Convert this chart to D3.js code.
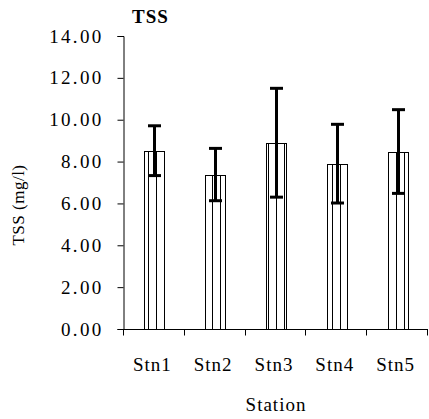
<!DOCTYPE html>
<html>
<head>
<meta charset="utf-8">
<script src="https://cdn.jsdelivr.net/npm/d3@7"></script>
<style>
  body { margin: 0; background: #fff; }
  text { font-family: "Liberation Serif", "Times New Roman", serif; fill: #000; }
</style>
</head>
<body>
<div id="chart"></div>
<script>
// 1. SETUP
const width = 429;
const height = 419;
const margin = { top: 36, right: 1, bottom: 90, left: 124 };

// DATA
const stations = ["Stn1", "Stn2", "Stn3", "Stn4", "Stn5"];
const means = [8.52, 7.38, 8.90, 7.90, 8.48];
const errs = [1.19, 1.25, 2.60, 1.88, 2.00];
const yTicks = [0, 2, 4, 6, 8, 10, 12, 14];

const svg = d3.select("#chart")
    .append("svg")
    .attr("width", width)
    .attr("height", height);

// vertical stripe fill
svg.append("defs").append("pattern")
    .attr("id", "stripes")
    .attr("patternUnits", "userSpaceOnUse")
    .attr("width", 8)
    .attr("height", 8)
    .append("line")
    .attr("x1", 4.5).attr("x2", 4.5)
    .attr("y1", 0).attr("y2", 8)
    .attr("stroke", "#000")
    .attr("stroke-width", 1);

// --- SCALES ---
const pad = 0.67;
const x = d3.scaleBand()
    .domain(stations)
    .range([margin.left, width - margin.right])
    .paddingInner(pad)
    .paddingOuter(pad / 2);

const y = d3.scaleLinear()
    .domain([0, 14])
    .range([height - margin.bottom, margin.top]);

// --- BARS ---
svg.append("g")
    .selectAll("rect")
    .data(stations)
    .join("rect")
    .attr("x", d => Math.round(x(d)) + 0.5)
    .attr("y", (d, i) => Math.round(y(means[i])) + 0.5)
    .attr("width", Math.round(x.bandwidth()))
    .attr("height", (d, i) => Math.round(y(0)) - Math.round(y(means[i])))
    .attr("fill", "url(#stripes)")
    .attr("stroke", "#000")
    .attr("stroke-width", 1);

// --- ERROR BARS ---
const eb = svg.append("g").attr("stroke", "#000").attr("stroke-width", 3);
stations.forEach((s, i) => {
    const cx = Math.round(x(s) + x.bandwidth() / 2) + 0.5;
    const top = y(means[i] + errs[i]);
    const bot = y(means[i] - errs[i]);
    eb.append("line").attr("x1", cx).attr("x2", cx).attr("y1", top).attr("y2", bot);
    eb.append("line").attr("x1", cx - 6.5).attr("x2", cx + 6.5).attr("y1", top).attr("y2", top);
    eb.append("line").attr("x1", cx - 6.5).attr("x2", cx + 6.5).attr("y1", bot).attr("y2", bot);
});

// --- Y AXIS ---
svg.append("g")
    .attr("transform", `translate(${margin.left - 0.5},0)`)
    .call(d3.axisLeft(y).tickValues(yTicks).tickSize(6).tickPadding(14).tickFormat(d3.format(".2f")))
    .call(g => g.selectAll("path, line").attr("stroke", "#000"))
    .call(g => g.selectAll("text")
        .style("font-family", "Liberation Serif, serif")
        .style("font-size", "19px")
        .style("letter-spacing", "2.3px"));

// --- X AXIS ---
const step = x.step();
const xAxis = svg.append("g")
    .attr("transform", `translate(0,${Math.round(y(0)) + 0.5})`);
xAxis.append("line")
    .attr("x1", margin.left - 1)
    .attr("x2", width - margin.right)
    .attr("stroke", "#000");
xAxis.selectAll(".tick-mark")
    .data(d3.range(stations.length + 1))
    .join("line")
    .attr("class", "tick-mark")
    .attr("x1", i => Math.round(x.range()[0] + step * i) - 0.5)
    .attr("x2", i => Math.round(x.range()[0] + step * i) - 0.5)
    .attr("y1", 0)
    .attr("y2", 6)
    .attr("stroke", "#000");
xAxis.selectAll(".xlab")
    .data(stations)
    .join("text")
    .attr("class", "xlab")
    .attr("x", d => x(d) + x.bandwidth() / 2 - 2)
    .attr("y", 41)
    .attr("text-anchor", "middle")
    .style("font-size", "19px")
    .style("letter-spacing", "1px")
    .text(d => d);

// Axis titles
svg.append("text")
    .attr("x", (margin.left + width - margin.right) / 2)
    .attr("y", 411)
    .attr("text-anchor", "middle")
    .style("font-size", "19px")
    .style("letter-spacing", "1px")
    .text("Station");

svg.append("text")
    .attr("transform", "translate(24,205) rotate(-90)")
    .attr("text-anchor", "middle")
    .style("font-size", "17px")
    .style("letter-spacing", "0.5px")
    .text("TSS (mg/l)");

// Title
svg.append("text")
    .attr("x", 132)
    .attr("y", 23)
    .style("font-size", "19px")
    .style("font-weight", "bold")
    .style("letter-spacing", "1px")
    .text("TSS");
</script>
</body>
</html>
